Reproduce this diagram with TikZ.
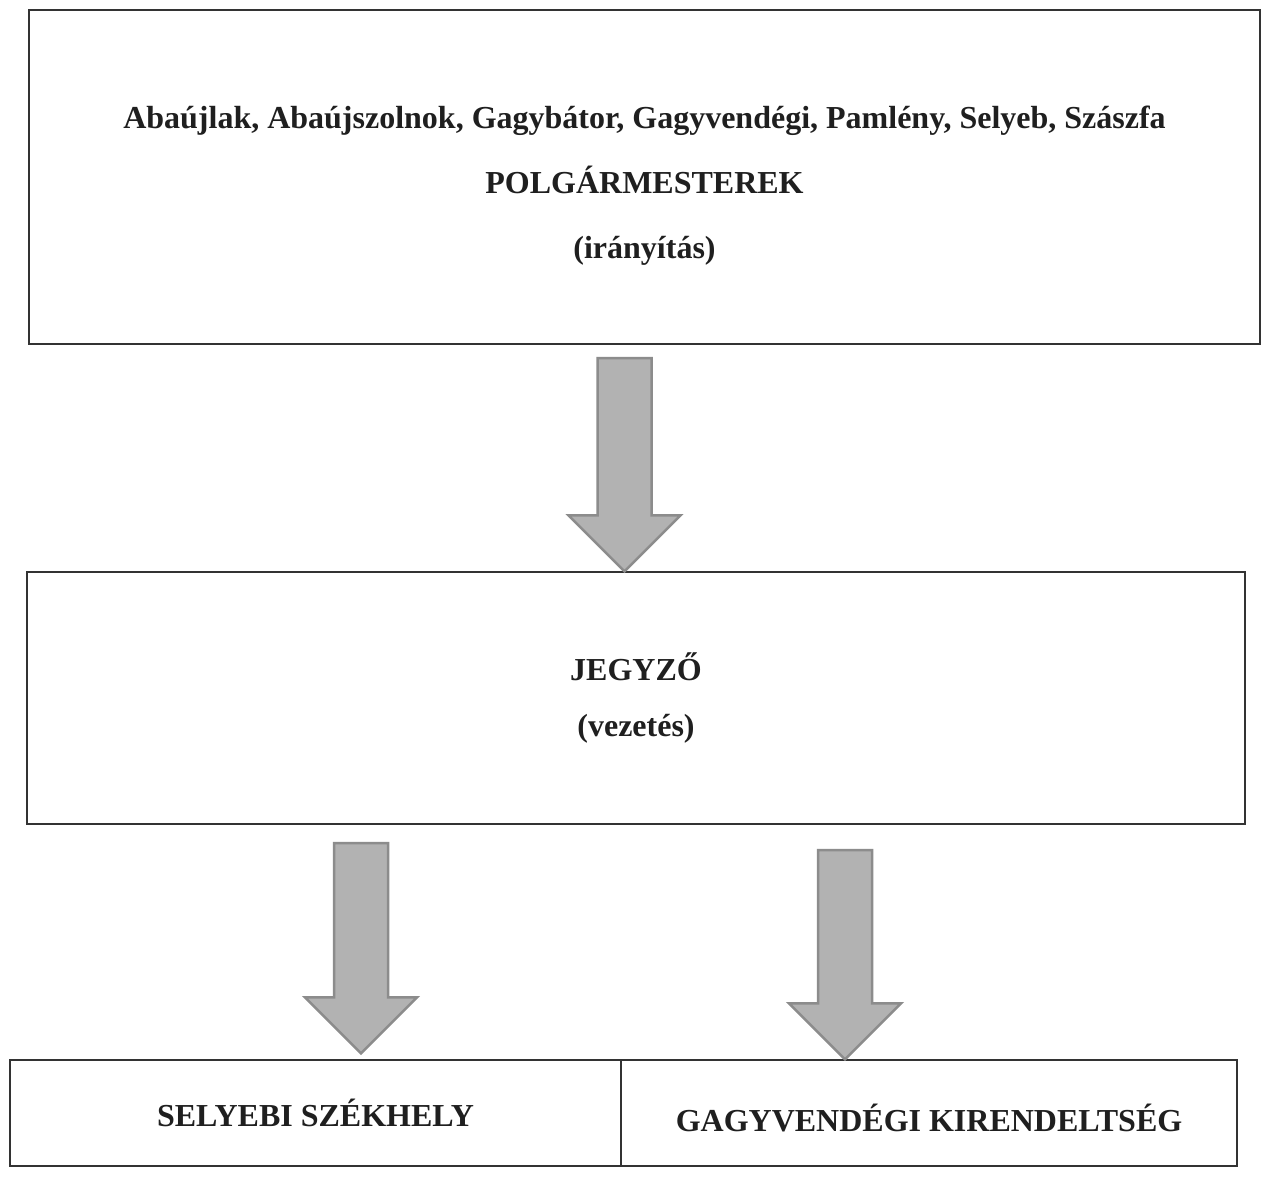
\documentclass[tikz,border=0pt]{standalone}
\usepackage{fontspec}
\setmainfont{Liberation Serif}
\usetikzlibrary{calc}
\tikzset{
  box/.style={draw=black!80, line width=1.2pt, fill=white, inner sep=0pt, align=center, text=black!88},
  barrow/.style={fill=black!30, draw=black!45, line width=2.5pt, line join=miter}
}
\newcommand\blockarrow[2]{%
  \draw[barrow] let \p1=(#1), \p2=(#2) in
    (\x1-27pt,\y1) -- (\x1+27pt,\y1) -- (\x1+27pt,\y2+56pt) -- (\x1+56pt,\y2+56pt)
    -- (\x2,\y2) -- (\x1-56pt,\y2+56pt) -- (\x1-27pt,\y2+56pt) -- cycle;}
\begin{document}
\begin{tikzpicture}[x=1pt,y=-1pt]
\useasboundingbox (0,0) rectangle (1266,1177);
\fill[white] (0,0) rectangle (1266,1177);
\node[box, minimum width=1231pt, minimum height=334pt,
      font=\bfseries\fontsize{32}{65}\selectfont] (top) at (644.5,177)
  {\rule{0pt}{40pt}Abaújlak, Abaújszolnok, Gagybátor, Gagyvendégi, Pamlény, Selyeb, Szászfa\\
   POLGÁRMESTEREK\\ (irányítás)};
\node[box, minimum width=1218pt, minimum height=252pt,
      font=\bfseries\fontsize{32}{56}\selectfont] (mid) at (636,698)
  {JEGYZŐ\\ (vezetés)};
\node[box, minimum width=611pt, minimum height=106pt,
      font=\bfseries\fontsize{32}{36}\selectfont] (sel) at (315.5,1113)
  {SELYEBI SZÉKHELY};
\node[box, minimum width=616pt, minimum height=106pt,
      font=\bfseries\fontsize{32}{36}\selectfont] (gagy) at (929,1113)
  {\rule{0pt}{38pt}GAGYVENDÉGI KIRENDELTSÉG};
\coordinate (a1s) at (624.5,358);
\coordinate (a1t) at (a1s |- mid.north);
\coordinate (a2s) at (361,843);
\coordinate (a2t) at ($(a2s |- sel.north)+(0,-6)$);
\coordinate (a3s) at (845,850);
\coordinate (a3t) at ($(a3s |- gagy.north)+(0,0)$);
\blockarrow{a1s}{a1t}
\blockarrow{a2s}{a2t}
\blockarrow{a3s}{a3t}
\end{tikzpicture}
\end{document}
